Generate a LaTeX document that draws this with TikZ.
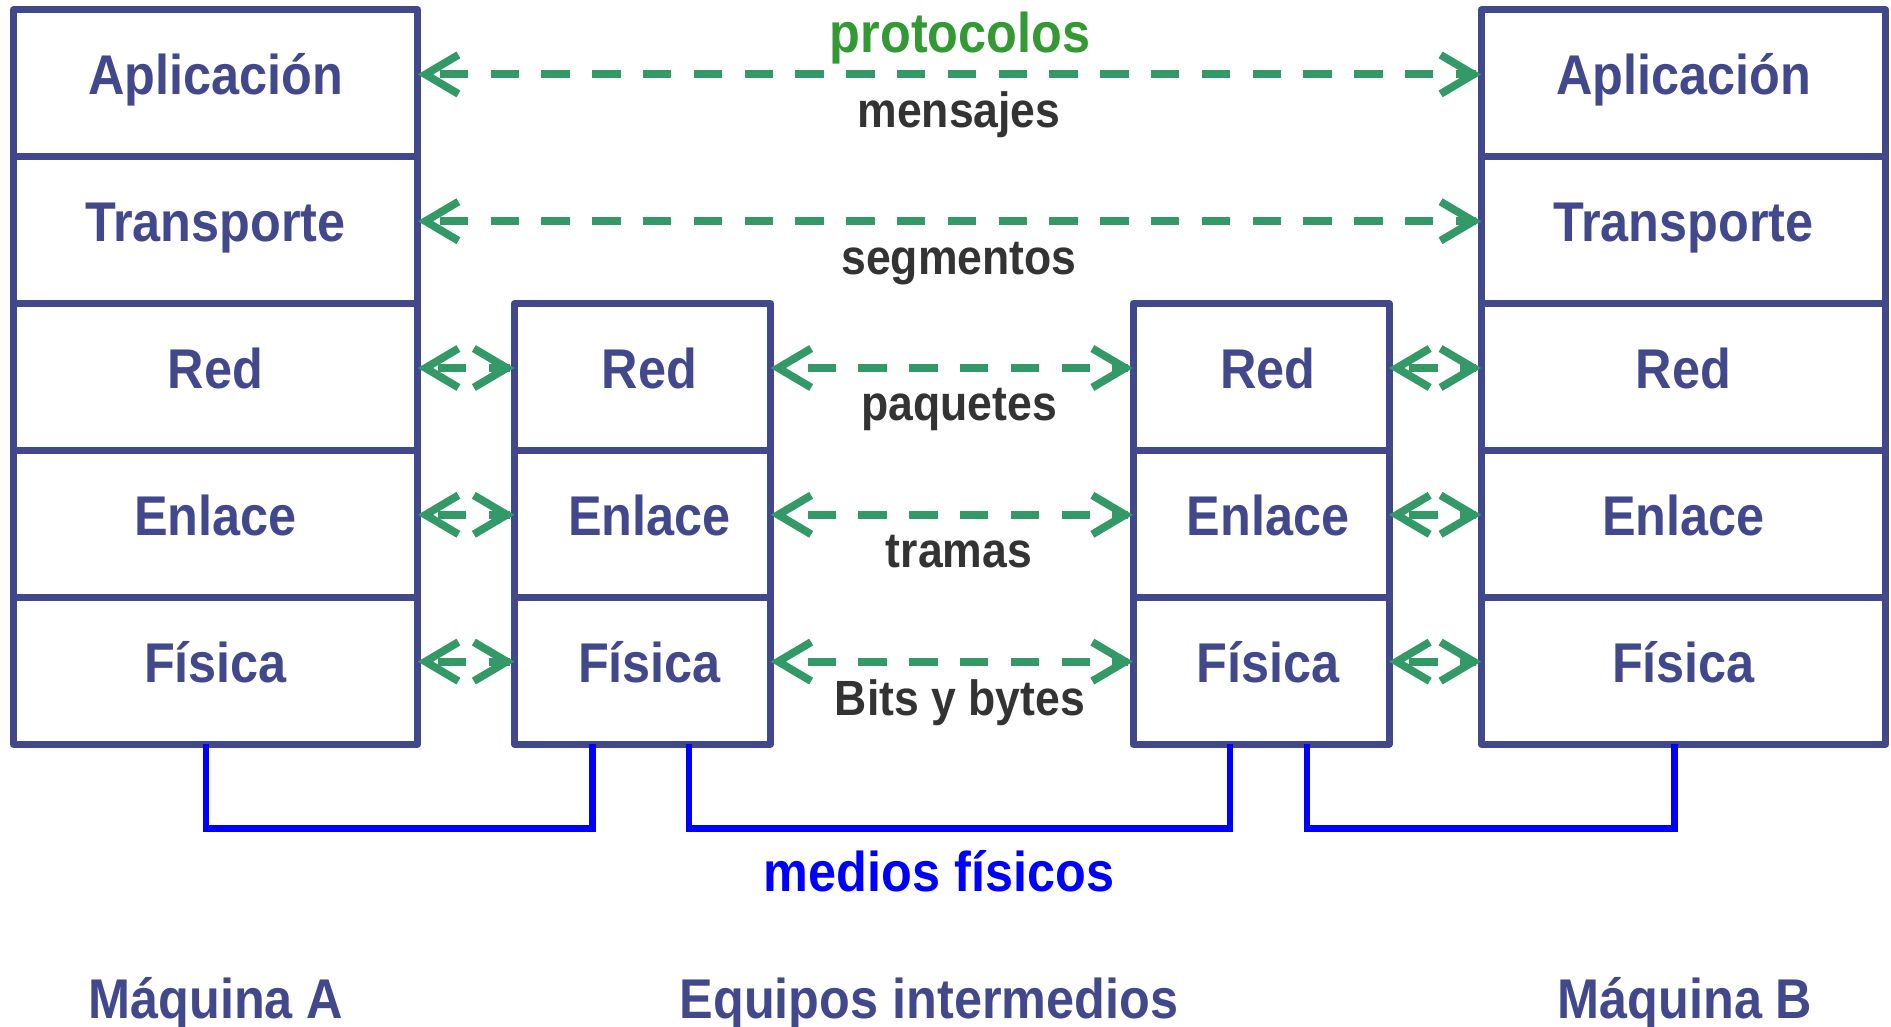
\documentclass[tikz,border=0pt]{standalone}
\usepackage{fontspec}
\setmainfont{Liberation Sans}[FakeStretch=0.9]
\usetikzlibrary{arrows.meta}
\definecolor{navy}{RGB}{65,72,140}
\definecolor{agreen}{RGB}{51,153,102}
\definecolor{pgreen}{RGB}{51,153,51}
\definecolor{lgray}{RGB}{51,51,51}
\definecolor{mblue}{RGB}{0,0,255}
\newcommand\mainfnt{\fontsize{56}{60}\selectfont\bfseries}
\newcommand\lblfnt{\fontsize{49.5}{54}\selectfont\bfseries}
\tikzset{
  cell/.style={draw=navy, line width=7pt, line join=round, minimum height=146.8pt,
    inner sep=0pt, outer sep=0pt, text height=40pt, text depth=17pt,
    font=\mainfnt, text=navy},
  bigcell/.style={cell, minimum width=404.5pt},
  smallcell/.style={cell, minimum width=256pt, execute at begin node={\hspace*{14pt}}},
  barb/.tip={Straight Barb[sharp,length=33pt,width=39pt]},
  tips/.style={draw=agreen, line width=7.8pt, barb-barb, dash pattern=on 0pt off 4000pt},
  dline/.style={draw=agreen, line width=7.8pt, dash pattern=on 28.5pt off 22.3pt},
  medio/.style={draw=mblue, line width=6.5pt, line join=miter},
  lbl/.style={font=\lblfnt, text=lgray, anchor=base, inner sep=0pt},
  title/.style={font=\mainfnt, text=navy, anchor=base, inner sep=0pt},
}
% protocol connector: tips from node to node, dashed line starting #3 after the left tip
\newcommand\protoconn[3]{%
  \draw[tips] ([yshift=9pt]#1.east) -- ([yshift=9pt]#2.west);
  \draw[dline] ([xshift=#3,yshift=9pt]#1.east) -- ([xshift=-5pt,yshift=9pt]#2.west);
}
\begin{document}
\begin{tikzpicture}[x=1pt,y=-1pt]
\useasboundingbox (0,0) rectangle (1891,1027);
% stacks
\node[bigcell] (A1) at (215.5,83.4) {Aplicación};
\node[bigcell] (A2) at (215.5,230.2) {Transporte};
\node[bigcell] (A3) at (215.5,377.0) {Red};
\node[bigcell] (A4) at (215.5,523.8) {Enlace};
\node[bigcell] (A5) at (215.5,670.6) {Física};
\node[smallcell] (M3) at (642.5,377.0) {Red};
\node[smallcell] (M4) at (642.5,523.8) {Enlace};
\node[smallcell] (M5) at (642.5,670.6) {Física};
\node[smallcell] (N3) at (1261,377.0) {Red};
\node[smallcell] (N4) at (1261,523.8) {Enlace};
\node[smallcell] (N5) at (1261,670.6) {Física};
\node[bigcell] (B1) at (1683.5,83.4) {Aplicación};
\node[bigcell] (B2) at (1683.5,230.2) {Transporte};
\node[bigcell] (B3) at (1683.5,377.0) {Red};
\node[bigcell] (B4) at (1683.5,523.8) {Enlace};
\node[bigcell] (B5) at (1683.5,670.6) {Física};
% protocol connectors
\protoconn{A1}{B1}{22pt}
\protoconn{A2}{B2}{22pt}
\foreach \r in {3,4,5}{
  \protoconn{A\r}{M\r}{20pt}
  \protoconn{M\r}{N\r}{37pt}
  \protoconn{N\r}{B\r}{20pt}
}
% physical media
\draw[medio] ([xshift=-9.5pt]A5.south) -- ++(0,84.7) -| ([xshift=-50.2pt]M5.south);
\draw[medio] ([xshift=46.5pt]M5.south) -- ++(0,84.7) -| ([xshift=-31pt]N5.south);
\draw[medio] ([xshift=46pt]N5.south) -- ++(0,84.7) -| ([xshift=-9.2pt]B5.south);
% labels
\node[font=\mainfnt, text=pgreen, anchor=base, inner sep=0pt] (prot) at (960,53) {protocolos};
\node[lbl] (l1) at (959,127.3) {mensajes};
\node[lbl] (l2) at (959,274.1) {segmentos};
\node[lbl] (l3) at (959,420.9) {paquetes};
\node[lbl] (l4) at (959,567.7) {tramas};
\node[lbl] (l5) at (960,715.0) {Bits y bytes};
\node[font=\mainfnt, text=mblue, anchor=base, inner sep=0pt] (med) at (939,891.7) {medios físicos};
\node[title] (ma) at (216,1018) {Máquina A};
\node[title] (eq) at (929,1018) {Equipos intermedios};
\node[title] (mb) at (1685,1018) {Máquina B};
\end{tikzpicture}
\end{document}
